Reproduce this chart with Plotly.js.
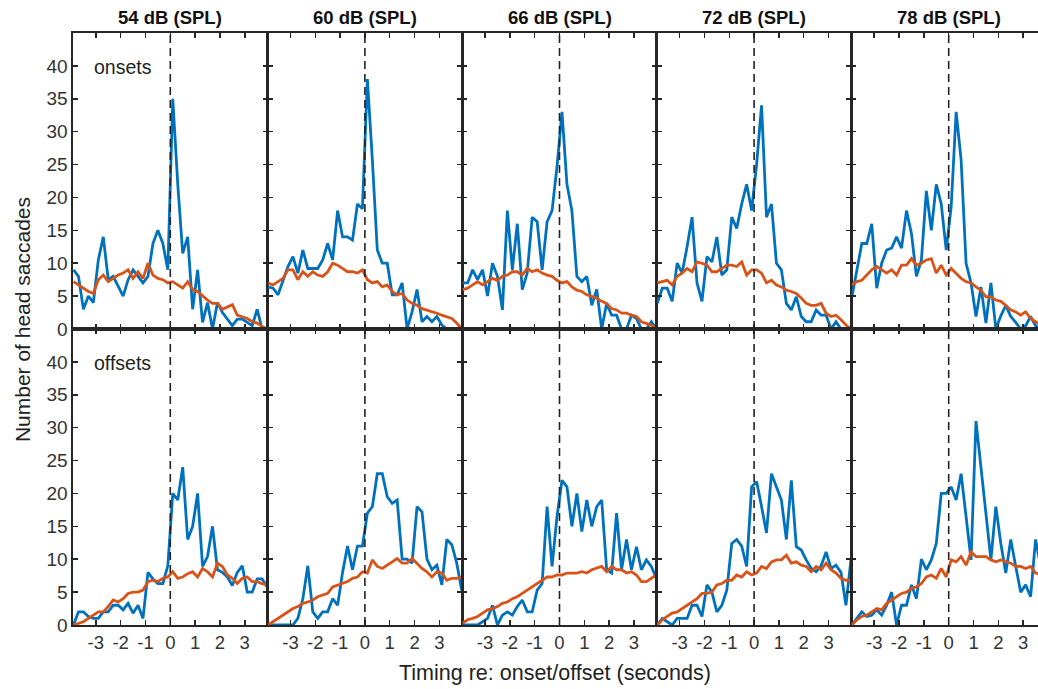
<!DOCTYPE html>
<html>
<head>
<meta charset="utf-8">
<script src="https://cdn.plot.ly/plotly-3.0.1.min.js"></script>
<style>
html,body{margin:0;padding:0;overflow:hidden;background:#fff;}
#chart{width:1046px;height:689px;}
</style>
</head>
<body>
<div id="chart"></div>
<script>
// Time bins (seconds re: onset/offset)
const timeBins = [-3.9,-3.7,-3.5,-3.3,-3.1,-2.9,-2.7,-2.5,-2.3,-2.1,-1.9,-1.7,-1.5,-1.3,-1.1,-0.9,-0.7,-0.5,-0.3,-0.1,
                  0.1,0.3,0.5,0.7,0.9,1.1,1.3,1.5,1.7,1.9,2.1,2.3,2.5,2.7,2.9,3.1,3.3,3.5,3.7,3.9];
const levels = ["54 dB (SPL)","60 dB (SPL)","66 dB (SPL)","72 dB (SPL)","78 dB (SPL)"];
const rowLabels = ["onsets","offsets"];
const yTicks = [0,5,10,15,20,25,30,35,40];
const xTicks = [-3,-2,-1,0,1,2,3];

// Onsets – blue (observed) and orange (baseline)
const on54Blue = [9,8,3,5,4,10.5,14,7.5,8,6.5,5,7.5,9,8,7,8,13,15,13,9,35,22,11.5,14,3,9,1,4,0,4,2.5,1.5,0.5,1.5,1.5,1,0.5,3,0,0];
const on54Orange = [7.2,6.7,6.2,5.7,5.4,7.5,8.2,7.2,7.7,8.2,8.5,9,7.7,8.7,7.7,10,8.2,7.7,7.5,7,7.2,6.7,6.2,7.2,6,5.7,5,4.4,3.9,3.9,3,3.4,3.7,2.1,1.9,1.6,1.1,0.9,0.4,0];
const on60Blue = [6.4,6.2,5.2,7.4,9.5,11,8.5,12,9.2,9.2,9.2,10.5,13,10.5,18,14,14,13.5,19,18.3,38,25.7,12,10,10,5.2,5.2,7,0,2.6,6,1.1,1.9,1.1,1.9,0.6,0,0,0,0];
const on60Orange = [7,6.7,7.2,7.7,9,9,7.5,8.7,8,8.7,8.2,8,8.7,10,9.7,9.2,8.7,8.7,8.5,9,7.5,7,7.2,6.4,6.7,5.7,5.2,5.4,4.4,3.9,3.6,3.1,2.9,2.6,2.4,2.1,1.9,1.6,0.9,0];
const on66Blue = [7,7,9,7.5,9,5,10,8,2.9,18,9,16,6,8.5,17,16.3,9,16.3,18,24.7,33,22,18,8,7.2,8,3.6,6,0,3.9,2.1,2.1,0,0,2.1,1.6,0,0,1.1,0];
const on66Orange = [6,6.2,6.7,7.2,6.7,7.2,7.7,7.4,8,8.2,8.7,8.7,8.2,9.2,8.7,9,8.5,8.2,8,7.4,7,7.2,6.4,5.9,5.7,5.2,4.9,4.7,4.2,3.9,3.1,2.9,2.4,2.4,2.1,1.9,1.1,0.9,0.6,0];
const on72Blue = [3.9,6.2,6.2,4.2,10,8.5,12.5,17,7,4.2,11,10.2,14,8.2,9,17,15.3,19,22,18,25,34,17,19,10,9,3.9,2.9,4.9,1.9,1.1,1.1,2.9,2.1,2.1,0,1.1,0,0,0];
const on72Orange = [7,7.2,7.4,6.7,8,8.5,9.2,8.7,10.2,10,9.7,8.7,8.7,9.2,9.7,9.7,9.5,10.2,8.2,9,9,8.5,7,7.4,6.7,6.4,5.9,5.7,5.4,4.7,3.9,3.6,3.6,3.9,2.4,1.9,2.1,1.4,0.6,0];
const on78Blue = [4.9,9,13,13,16,6.2,10,12,12.3,14,12.3,18,14.5,8,10.5,21,15,22,19,12,18.6,33,25.7,10,7,1.9,6.4,0.9,7,0,2,3.6,1.9,1,0,0.5,1.9,0.5,0,0];
const on78Orange = [6.7,7.2,7.4,8.2,9,9.5,9,8.5,9,8.2,9.7,9.7,10.7,9.7,10,10.5,10.7,8.5,9.7,8.2,9.2,8.5,7.7,7.2,7,6.4,5.9,4.9,4.9,4.4,4.2,3.6,2.9,2.6,2.1,2.6,1.6,1.1,0.6,0.3];

// Offsets
const off54Blue = [0,2,2,1.3,1,1,2,2,3,3,2.3,3.3,1.8,3,1,8,7,6.3,6.3,9,20,19,24,13,15,20,8.9,10.4,15,8.4,8,7.3,6,8,9,5,5,7,7,5.8];
const off54Orange = [0,0.3,0.5,1,1.5,2,2,2.8,3.8,3.5,4,4.8,5,5,5.3,6.6,6.8,6.6,7.1,7.3,8.1,7.1,7.3,7.8,8.1,7.3,8.6,8.1,7.3,9.4,8.9,7.6,7.1,6.3,7.1,7.3,6.6,6.6,6.3,6.1];
const off60Blue = [0,0,0,0,0,0,1,4,9,2,1,2,2,4,3,8,12,8.4,12,12,17,18,23,23,19.5,18.5,19,10,10,9.4,18,17.2,10,8.4,9.1,6.1,13,12.2,9.4,5.3];
const off60Orange = [0,0.5,1,1.5,2,2.5,2.8,3.3,3.5,3.8,4.3,4.6,4.8,5.8,6.1,6.3,6.6,7.1,7.3,8.1,7.9,9.9,8.9,8.6,9.1,9.6,10.1,9.4,9.4,10.1,9.4,8.6,8.1,7.3,8.1,7.9,6.8,7.1,7.1,7.3];
const off66Blue = [0,0,0,0,0.5,1,3,0,1.5,2,1.5,2.8,3.8,2,2,5.3,6.3,18,8.9,16.5,22,21,15,20,14.2,19,15,18,19,8.4,7.9,17,8.4,13,8.4,11.9,8.4,9.9,8.9,7.1];
const off66Orange = [0.3,0.8,1,1.3,1.8,2.3,2.5,2.8,3.3,3.5,4,4.3,4.8,5.3,5.8,6.3,6.8,7.3,7.3,7.6,7.6,7.9,7.9,7.9,8.1,7.9,8.4,8.6,8.9,8.1,8.9,8.4,8.4,7.9,8.1,7.6,6.6,6.6,7.1,7.6];
const off72Blue = [0,1,0.5,0,1,1,1,3,3,1.3,6.1,5,2,3,5.3,12.4,13,12,8.9,21,21.8,18,14,23,21,19,13,22,11.9,11.4,9.9,8.6,8.1,9,11.1,8.6,9.1,8,3,9.9];
const off72Orange = [0,0.8,1.3,1.8,2,2.5,3,3.5,4,4.8,4.8,5,6.1,6.3,6.8,6.8,7.6,7.3,8.1,7.6,7.9,8.9,8.6,9.6,9.9,9.9,10.6,9.4,9.6,9.1,8.9,8.1,8.9,8.4,9.4,8.4,7.9,7.1,6.8,6.8];
const off78Blue = [0,1,2,1.3,1.5,2.3,1.5,3,5,0,3,3,6.1,4,10,8.4,9.9,12.4,20,20,21,19,23,16.5,9.9,31,24,16.5,9.9,18,12.4,7.9,13,8.9,5,6.1,4.3,13,9,7];
const off78Orange = [0,0.8,1.3,1.5,2,2.5,2.3,3.3,3.8,4.3,4.8,5,5.6,5.8,6.3,7.3,7.6,7.1,8.6,7.3,9.9,9.6,10.4,9.1,11.1,10.4,10.4,10.4,9.9,9.6,9.9,9.6,9.4,8.9,8.9,8.6,8.9,7.9,7.8,7.6];

const blueSeries = [[on54Blue,on60Blue,on66Blue,on72Blue,on78Blue],[off54Blue,off60Blue,off66Blue,off72Blue,off78Blue]];
const orangeSeries = [[on54Orange,on60Orange,on66Orange,on72Orange,on78Orange],[off54Orange,off60Orange,off66Orange,off72Orange,off78Orange]];

const BLUE = '#0072BD', ORANGE = '#D95319', AX = '#262626';
const FONT = 'Liberation Sans, Arial, Helvetica, sans-serif';

const traces = [];
const layout = {
  width: 1046, height: 689,
  margin: {l: 73, r: 0, t: 33, b: 64},
  paper_bgcolor: '#fff', plot_bgcolor: '#fff',
  showlegend: false,
  font: {family: FONT, color: AX},
  shapes: [], annotations: []
};

for (let r = 0; r < 2; r++) {
  for (let c = 0; c < 5; c++) {
    const k = r * 5 + c + 1;
    const xa = 'x' + (k === 1 ? '' : k), ya = 'y' + (k === 1 ? '' : k);
    traces.push({x: timeBins, y: blueSeries[r][c], xaxis: xa, yaxis: ya, type: 'scatter', mode: 'lines',
                 line: {color: BLUE, width: 2.8}, hoverinfo: 'skip'});
    traces.push({x: timeBins, y: orangeSeries[r][c], xaxis: xa, yaxis: ya, type: 'scatter', mode: 'lines',
                 line: {color: ORANGE, width: 2.8}, hoverinfo: 'skip'});
    const xName = 'xaxis' + (k === 1 ? '' : k), yName = 'yaxis' + (k === 1 ? '' : k);
    layout[xName] = {
      domain: [c * 0.2, (c + 1) * 0.2], anchor: ya, range: [-3.92, 3.92],
      tickvals: xTicks, ticktext: xTicks.map(String), showticklabels: r === 1,
      ticks: 'inside', ticklen: 5, tickwidth: 1.5, tickcolor: AX,
      showline: true, linecolor: AX, linewidth: 1.6, mirror: 'ticks',
      showgrid: false, zeroline: false, fixedrange: true,
      tickfont: {size: 18.5, color: '#333', family: FONT}
    };
    layout[yName] = {
      domain: r === 0 ? [0.5, 1] : [0, 0.5], anchor: xa, range: [0, 45],
      tickvals: yTicks, ticktext: yTicks.map(String), showticklabels: c === 0,
      ticks: 'inside', ticklen: 5, tickwidth: 1.5, tickcolor: AX,
      showline: true, linecolor: AX, linewidth: 1.6, mirror: 'ticks',
      showgrid: false, zeroline: false, fixedrange: true,
      tickfont: {size: 19, color: '#333', family: FONT}
    };
    layout.shapes.push({type: 'line', xref: xa, yref: ya + ' domain', x0: 0, x1: 0, y0: 0, y1: 1,
                        line: {color: '#222', width: 1.6, dash: '8px,5px'}, layer: 'above'});
    if (r === 0) {
      layout.annotations.push({text: '<b>' + levels[c] + '</b>', xref: 'x' + (c === 0 ? '' : c + 1) + ' domain', yref: 'paper',
                               x: 0.5, y: 1, yshift: 3, xanchor: 'center', yanchor: 'bottom', showarrow: false,
                               font: {size: 18.5, color: '#111', family: FONT}});
    }
    if (c === 0) {
      layout.annotations.push({text: rowLabels[r], xref: xa + ' domain', yref: ya + ' domain',
                               x: 0.1, y: 0.885, xanchor: 'left', yanchor: 'middle', showarrow: false,
                               font: {size: 19.5, color: '#222', family: FONT}});
    }
  }
}
layout.annotations.push({text: 'Number of head saccades', xref: 'paper', yref: 'paper', x: 0, y: 0.515,
                         xshift: -51, textangle: -90, xanchor: 'center', yanchor: 'middle', showarrow: false,
                         font: {size: 21, color: '#222', family: FONT}});
layout.annotations.push({text: 'Timing re: onset/offset (seconds)', xref: 'paper', yref: 'paper', x: 0.4955, y: 0,
                         yshift: -48, xanchor: 'center', yanchor: 'middle', showarrow: false,
                         font: {size: 21.5, color: '#222', family: FONT}});

Plotly.newPlot('chart', traces, layout, {displayModeBar: false, staticPlot: true});
</script>
</body>
</html>
